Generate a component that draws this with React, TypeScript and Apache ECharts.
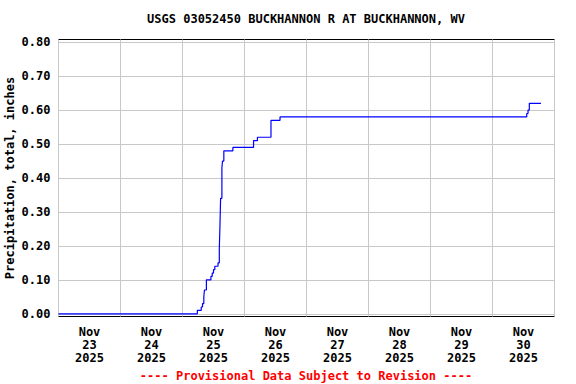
import React, { useEffect, useRef } from "react";
import * as echarts from "echarts";

const TITLE = "USGS 03052450 BUCKHANNON R AT BUCKHANNON, WV";
const Y_NAME = "Precipitation, total, inches";
const FOOTER = "---- Provisional Data Subject to Revision ----";

// Observation times and cumulative precipitation (inches)
const times: string[] = [
  "2025-11-23T00:00",
  "2025-11-25T05:45",
  "2025-11-25T07:15",
  "2025-11-25T07:45",
  "2025-11-25T08:15",
  "2025-11-25T08:30",
  "2025-11-25T09:15",
  "2025-11-25T11:00",
  "2025-11-25T11:30",
  "2025-11-25T12:00",
  "2025-11-25T12:30",
  "2025-11-25T13:45",
  "2025-11-25T14:15",
  "2025-11-25T14:30",
  "2025-11-25T14:45",
  "2025-11-25T15:15",
  "2025-11-25T15:30",
  "2025-11-25T16:00",
  "2025-11-25T19:30",
  "2025-11-26T03:30",
  "2025-11-26T05:00",
  "2025-11-26T10:15",
  "2025-11-26T13:45",
  "2025-11-30T13:15",
  "2025-11-30T13:45",
  "2025-11-30T14:15",
  "2025-11-30T18:45",
];
const values: number[] = [
  0.0, 0.01, 0.02, 0.03, 0.05, 0.07, 0.1, 0.11, 0.12, 0.13, 0.14, 0.15, 0.19,
  0.26, 0.34, 0.43, 0.45, 0.48, 0.49, 0.51, 0.52, 0.57, 0.58, 0.59, 0.6, 0.62,
  0.62,
];

const dayLabels: string[] = [
  "Nov\n23\n2025",
  "Nov\n24\n2025",
  "Nov\n25\n2025",
  "Nov\n26\n2025",
  "Nov\n27\n2025",
  "Nov\n28\n2025",
  "Nov\n29\n2025",
  "Nov\n30\n2025",
];
const yTicks: number[] = [0, 0.1, 0.2, 0.3, 0.4, 0.5, 0.6, 0.7, 0.8];

const X_START = "2025-11-23T00:00";
const X_END = "2025-12-01T00:00";

function toMs(s: string): number {
  const [d, t] = s.split("T");
  const [y, mo, da] = d.split("-").map(Number);
  const [h, mi] = t.split(":").map(Number);
  return Date.UTC(y, mo - 1, da, h, mi);
}

const FONT = "'DejaVu Sans Mono', monospace";

export default function App() {
  const ref = useRef<HTMLDivElement>(null);
  useEffect(() => {
    if (!ref.current) return;
    const chart = echarts.init(ref.current, null, { renderer: "svg" });
    const DAY = 86400000;
    const option: any = {
      animation: false,
      backgroundColor: "#ffffff",
      grid: {
        left: 58.5,
        right: 21.5,
        top: 39.5,
        bottom: 67.5,
        show: true,
        borderColor: "#000000",
        borderWidth: 1,
        containLabel: false,
        outerBoundsMode: "none",
      },
      xAxis: [
        {
          type: "value",
          min: toMs(X_START),
          max: toMs(X_END),
          interval: DAY,
          axisLine: { show: false },
          axisTick: { show: false },
          axisLabel: { show: false },
          splitLine: { show: true, lineStyle: { color: "#c8c8c8", width: 1 } },
        },
        {
          type: "category",
          data: dayLabels,
          position: "bottom",
          boundaryGap: true,
          axisLine: { show: false },
          axisTick: { show: false },
          splitLine: { show: false },
          axisLabel: {
            color: "#000",
            fontFamily: FONT,
            fontWeight: "bold",
            fontSize: 12,
            lineHeight: 13,
            margin: 9,
            interval: 0,
          },
        },
      ],
      yAxis: {
        type: "value",
        min: -0.008,
        max: 0.808,
        name: Y_NAME,
        nameLocation: "middle",
        nameRotate: 90,
        nameGap: 43,
        nameMoveOverlap: false,
        nameTextStyle: {
          color: "#000",
          fontFamily: FONT,
          fontWeight: "bold",
          fontSize: 12,
        },
        axisLine: { show: false },
        axisTick: { show: false, customValues: yTicks },
        axisLabel: {
          customValues: yTicks,
          formatter: (v: number) => v.toFixed(2),
          color: "#000",
          fontFamily: FONT,
          fontWeight: "bold",
          fontSize: 12,
          margin: 8,
        },
        splitLine: { show: true, lineStyle: { color: "#c8c8c8", width: 1 } },
      },
      graphic: [
        {
          type: "text",
          x: 306,
          y: 19,
          style: {
            text: TITLE,
            fill: "#000",
            font: `bold 12px ${FONT}`,
            textAlign: "center",
            textVerticalAlign: "middle",
          },
        },
        {
          type: "text",
          x: 306,
          y: 376,
          style: {
            text: FOOTER,
            fill: "#ff0000",
            font: `bold 12px ${FONT}`,
            textAlign: "center",
            textVerticalAlign: "middle",
          },
        },
      ],
      series: [
        {
          type: "line",
          xAxisIndex: 0,
          step: "end",
          showSymbol: false,
          symbol: "none",
          lineStyle: { color: "#0000ff", width: 1.2 },
          data: times.map((t, i) => [toMs(t), values[i]]),
        },
      ],
    };
    chart.setOption(option);
    return () => chart.dispose();
  }, []);
  return (
    <div
      ref={ref}
      style={{ position: "fixed", left: 0, top: 0, width: 576, height: 384 }}
    />
  );
}
